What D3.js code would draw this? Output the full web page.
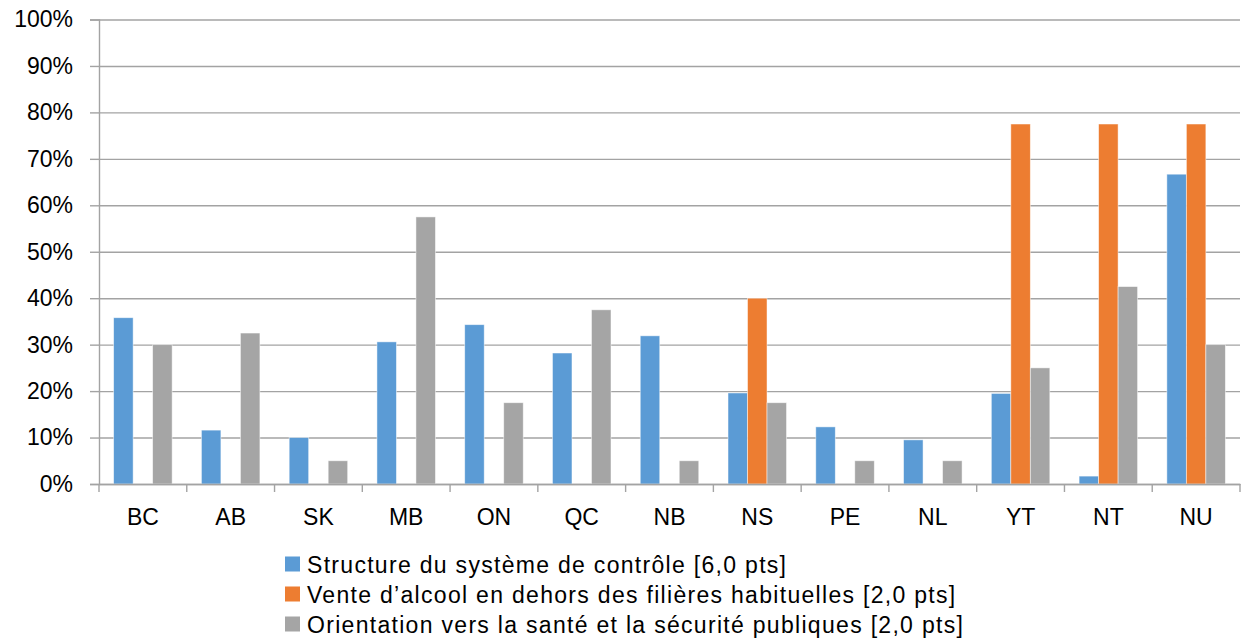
<!DOCTYPE html>
<html>
<head>
<meta charset="utf-8">
<script src="https://cdn.jsdelivr.net/npm/d3@7"></script>
<style>
  body { margin: 0; background: #fff; }
  text { font-family: "Liberation Sans", Arial, sans-serif; fill: #000; }
</style>
</head>
<body>
<div id="chart"></div>
<script>
// data
const provinces = ["BC", "AB", "SK", "MB", "ON", "QC", "NB", "NS", "PE", "NL", "YT", "NT", "NU"];
const seriesNames = [
  "Structure du système de contrôle [6,0 pts]",
  "Vente d’alcool en dehors des filières habituelles [2,0 pts]",
  "Orientation vers la santé et la sécurité publiques [2,0 pts]"
];
const structure   = [35.8, 11.6, 10.0, 30.6, 34.3, 28.2, 31.9, 19.6, 12.3, 9.5, 19.5, 1.7, 66.7];
const venteAlcool = [0, 0, 0, 0, 0, 0, 0, 40.0, 0, 0, 77.5, 77.5, 77.5];
const orientation = [30.0, 32.5, 5.0, 57.5, 17.5, 37.5, 5.0, 17.5, 5.0, 5.0, 25.0, 42.5, 30.0];
const yTicks = [0, 10, 20, 30, 40, 50, 60, 70, 80, 90, 100];
const colors = ["#5B9BD5", "#ED7D31", "#A5A5A5"];

const allSeries = [structure, venteAlcool, orientation];

const W = 1243, H = 639;
const margin = { top: 19.5, right: 3, bottom: 155, left: 99 };
const width = W - margin.left - margin.right,
      height = H - margin.top - margin.bottom;

const svg = d3.select("#chart")
  .append("svg")
  .attr("width", W)
  .attr("height", H)
  .append("g")
  .attr("transform", `translate(${margin.left},${margin.top})`);

const x0 = d3.scaleBand().domain(provinces).range([0, width]).padding(0);
const bw = x0.bandwidth() / 4.5;
const x1 = d3.scaleBand().domain([0, 1, 2])
  .range([bw * 0.75, bw * 3.75]).padding(0);
const y = d3.scaleLinear().domain([0, 100]).range([height, 0]);

// gridlines
svg.append("g")
  .attr("class", "grid")
  .call(d3.axisLeft(y).tickValues(yTicks).tickSize(-width).tickFormat(""))
  .call(g => g.select(".domain").remove())
  .call(g => g.selectAll("line").attr("stroke", "#a3a3a3").attr("stroke-width", 1.4));

// y axis with labels
svg.append("g")
  .call(d3.axisLeft(y).tickValues(yTicks).tickSize(9).tickPadding(17).tickFormat(d => d + "%"))
  .call(g => g.select(".domain").attr("stroke", "#a3a3a3").attr("stroke-width", 1.4))
  .call(g => g.selectAll("line").attr("stroke", "#a3a3a3").attr("stroke-width", 1.4))
  .call(g => g.selectAll("text").style("font-size", "23px").style("font-family", "Liberation Sans, Arial, sans-serif"));

// bars
const rows = provinces.map((p, i) => ({ p, vals: allSeries.map(s => s[i]) }));
svg.selectAll(".grp")
  .data(rows)
  .join("g")
  .attr("class", "grp")
  .attr("transform", d => `translate(${x0(d.p)},0)`)
  .selectAll("rect")
  .data(d => d.vals.map((v, k) => ({ v, k })).filter(e => e.v > 0))
  .join("rect")
  .attr("x", d => x1(d.k))
  .attr("y", d => y(d.v))
  .attr("width", x1.bandwidth())
  .attr("height", d => height - y(d.v))
  .attr("fill", d => colors[d.k])
  .attr("stroke", "#fff")
  .attr("stroke-opacity", 0.6)
  .attr("stroke-width", 0.8);

// x axis
const xAxis = svg.append("g")
  .attr("transform", `translate(0,${height})`)
  .call(d3.axisBottom(x0).tickSize(0).tickPadding(24.5))
  .call(g => g.select(".domain").attr("stroke", "#a3a3a3").attr("stroke-width", 1.4))
  .call(g => g.selectAll("text").style("font-size", "23px").style("font-family", "Liberation Sans, Arial, sans-serif"));

xAxis.selectAll(".sep")
  .data(provinces.map(p => x0(p)).concat([width]))
  .join("line")
  .attr("class", "sep")
  .attr("x1", d => d).attr("x2", d => d)
  .attr("y1", 0).attr("y2", 8)
  .attr("stroke", "#a3a3a3").attr("stroke-width", 1.4);

// legend
const legend = d3.select("svg").append("g")
  .attr("transform", "translate(285,564)");
const items = legend.selectAll(".item")
  .data(seriesNames)
  .join("g")
  .attr("class", "item")
  .attr("transform", (d, i) => `translate(0,${i * 30})`);
items.append("rect")
  .attr("x", 0).attr("y", -7.5)
  .attr("width", 15).attr("height", 15)
  .attr("fill", (d, i) => colors[i]);
items.append("text")
  .attr("x", 22)
  .attr("y", 9.3)
  .style("font-size", "23px")
  .style("letter-spacing", "1.3px")
  .text(d => d);
</script>
</body>
</html>
